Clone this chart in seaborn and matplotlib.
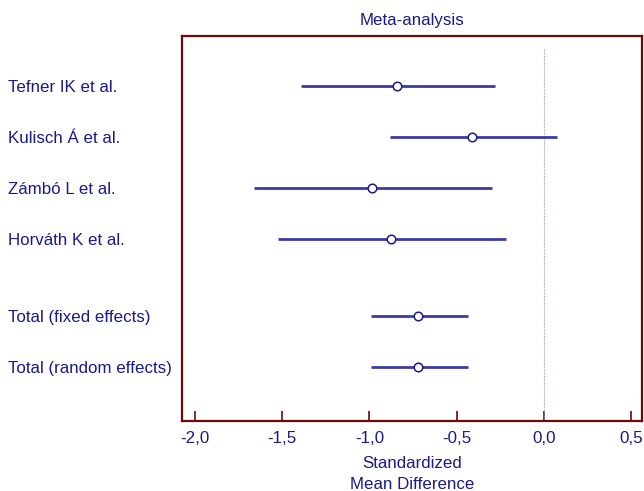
import numpy as np
import pandas as pd
import seaborn as sns
from matplotlib import pyplot as plt

studies = ['Tefner IK et al.', 'Kulisch Á et al.', 'Zámbó L et al.', 'Horváth K et al.',
           'Total (fixed effects)', 'Total (random effects)']
rows = [1, 2, 3, 4, 5.5, 6.5]
smd = [-0.84, -0.41, -0.985, -0.875, -0.72, -0.72]
lower = [-1.39, -0.88, -1.66, -1.525, -0.99, -0.99]
upper = [-0.28, 0.075, -0.295, -0.215, -0.435, -0.435]
xticks = [-2.0, -1.5, -1.0, -0.5, 0.0, 0.5]

df = pd.DataFrame({'study': studies, 'row': rows, 'smd': smd, 'lo': lower, 'hi': upper})

sns.set_style('white')
plt.rcParams['font.family'] = ['Liberation Sans', 'DejaVu Sans']

navy = '#1a1a8a'
line_c = '#3b3ba6'
frame_c = '#6e0808'
fs = 12.2

fig = plt.figure(figsize=(6.44, 4.91), dpi=100)
ax = fig.add_axes([182/644, 1 - 421/491, 460/644, 385/491])

ax.axvline(0, ymin=0, ymax=0.969, color='#9a9ac8', lw=0.8, ls=(0, (1, 1)), zorder=1)
ax.hlines(df['row'], df['lo'], df['hi'], color=line_c, lw=2.0, zorder=2)
sns.scatterplot(data=df, x='smd', y='row', ax=ax, s=38, color='white',
                edgecolor=navy, linewidth=1.1, zorder=3)

ax.set_xlim(-2.074, 0.563)
ax.set_ylim(7.55, 0.02)

ax.set_xticks(xticks)
ax.set_xticklabels([f'{v:.1f}'.replace('.', ',') for v in xticks], color=navy, fontsize=fs)
ax.tick_params(axis='x', bottom=True, direction='in', length=7.2, width=1.2, color=frame_c, pad=7.5)

ax.set_yticks(df['row'])
ax.set_yticklabels(df['study'], color=navy, fontsize=fs)
ax.tick_params(axis='y', left=False, length=0, pad=125)
for lab in ax.get_yticklabels():
    lab.set_horizontalalignment('left')

for sp in ax.spines.values():
    sp.set_visible(True)
    sp.set_color(frame_c)
    sp.set_linewidth(1.6)

ax.set_xlabel('Standardized\nMean Difference', color=navy, fontsize=fs, labelpad=7,
              linespacing=1.5)
ax.set_ylabel('')
ax.set_title('Meta-analysis', color=navy, fontsize=fs, pad=8)

fig.savefig('out.png', dpi=100)
